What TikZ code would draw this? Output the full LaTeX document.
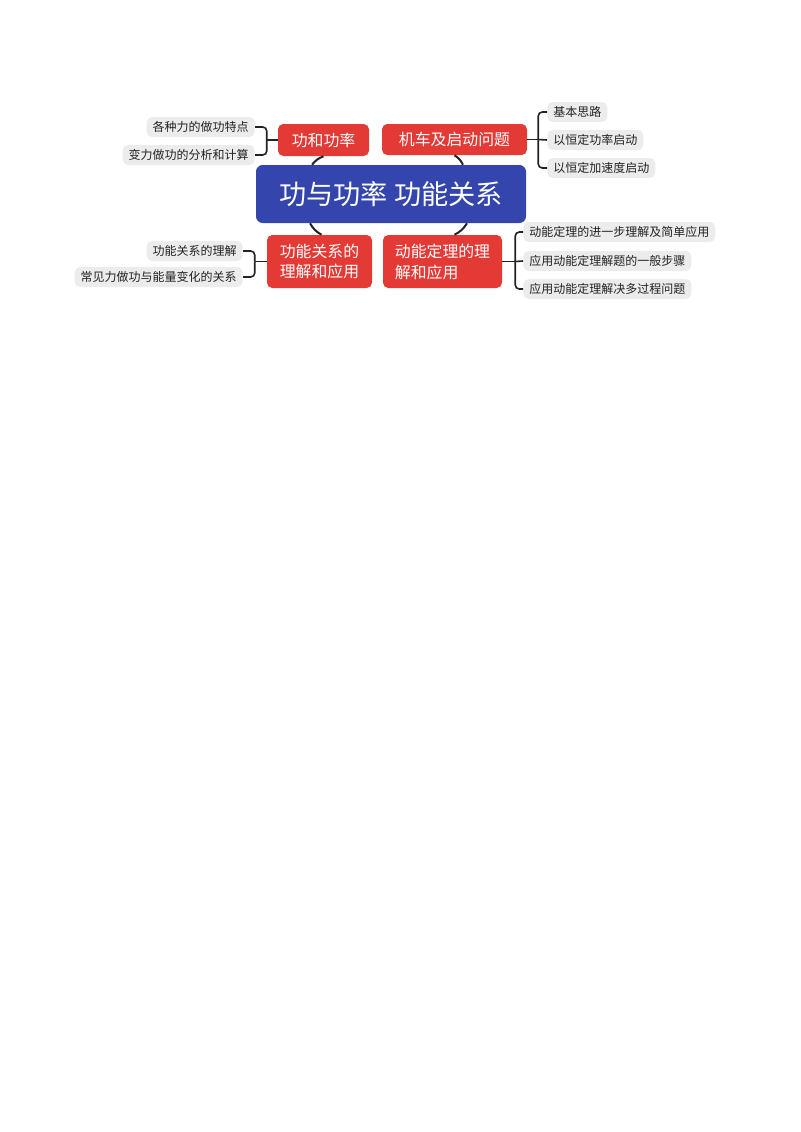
\documentclass[tikz,border=0pt]{standalone}
\usepackage{fontspec}
\setmainfont{Noto Sans CJK SC}
\usepackage{tikz}
\usetikzlibrary{positioning,calc}
\definecolor{topicblue}{HTML}{3446AE}
\definecolor{branchred}{HTML}{E33A36}
\definecolor{leafgray}{HTML}{ECECEC}
\definecolor{inkgray}{HTML}{222222}

\begin{document}
\begin{tikzpicture}[x=0.75pt,y=-0.75pt,
    root/.style={fill=topicblue,text=white,rounded corners=5pt,
      minimum width=202.5pt,minimum height=43.5pt,inner sep=0pt,
      font=\fontsize{20.4}{23}\selectfont},
    branch/.style={fill=branchred,text=white,rounded corners=4pt,
      inner sep=0pt,align=left,font=\fontsize{11.9}{15.7}\selectfont},
    leaf/.style={fill=leafgray,text=inkgray,rounded corners=4pt,
      inner xsep=4.5pt,inner ysep=0pt,minimum height=15pt,
      font=\fontsize{9}{10}\selectfont},
    link/.style={draw=inkgray,line width=1.5pt},
    brace/.style={draw=inkgray,line width=1.2pt,rounded corners=3pt}]
    \useasboundingbox (0,0) rectangle (800,1132);
    % central topic
    \node[root] (t0) at (391,194) {功与功率\ 功能关系};
    % main branches
    \node[branch,minimum width=68.25pt,minimum height=24pt] (t1) at (323.5,140) {功和功率};
    \node[branch,minimum width=108.75pt,minimum height=23.25pt] (t2) at (454.5,139.5) {机车及启动问题};
    \node[branch,minimum width=78.75pt,minimum height=39.75pt] (t3) at (319.5,261.5) {功能关系的\\理解和应用};
    \node[branch,minimum width=89.25pt,minimum height=39.75pt] (t4) at (442.5,261.5) {动能定理的理\\解和应用};
    \draw[link] (t1.south) to[bend right=15] ($(t0.north)+(-79,0)$);
    \draw[link] (t2.south) to[bend left=15] ($(t0.north)+(72,0)$);
    \draw[link] ($(t0.south)+(-81,0)$) to[bend right=15] ($(t3.north)+(2,0)$);
    \draw[link] ($(t0.south)+(76,0)$) to[bend left=15] ($(t4.north)+(12,0)$);
    % leaves
    \node[leaf,anchor=east] (t1a) at (255,127) {各种力的做功特点};
    \node[leaf,anchor=east] (t1b) at (255,155) {变力做功的分析和计算};
    \node[leaf,anchor=west] (t2a) at (547,112) {基本思路};
    \node[leaf,anchor=west] (t2b) at (547,140) {以恒定功率启动};
    \node[leaf,anchor=west] (t2c) at (547,168) {以恒定加速度启动};
    \node[leaf,anchor=east] (t3a) at (243,251) {功能关系的理解};
    \node[leaf,anchor=east] (t3b) at (243,277) {常见力做功与能量变化的关系};
    \node[leaf,anchor=west] (t4a) at (523,232) {动能定理的进一步理解及简单应用};
    \node[leaf,anchor=west] (t4b) at (523,261) {应用动能定理解题的一般步骤};
    \node[leaf,anchor=west] (t4c) at (523,289) {应用动能定理解决多过程问题};
    % brackets
    \draw[brace] (t1.west) -- ++(-11,0) coordinate (s1);
    \draw[brace] (s1) |- (t1a.east);
    \draw[brace] (s1) |- (t1b.east);
    \draw[brace] (t2.east) -- ++(11,0) coordinate (s2);
    \draw[brace] (s2) |- (t2a.west);
    \draw[brace] (s2) -- (t2b.west);
    \draw[brace] (s2) |- (t2c.west);
    \draw[brace] (t3.west) -- ++(-12,0) coordinate (s3);
    \draw[brace] (s3) |- (t3a.east);
    \draw[brace] (s3) |- (t3b.east);
    \draw[brace] (t4.east) -- ++(13,0) coordinate (s4);
    \draw[brace] (s4) |- (t4a.west);
    \draw[brace] (s4) -- (t4b.west);
    \draw[brace] (s4) |- (t4c.west);
\end{tikzpicture}
\end{document}
